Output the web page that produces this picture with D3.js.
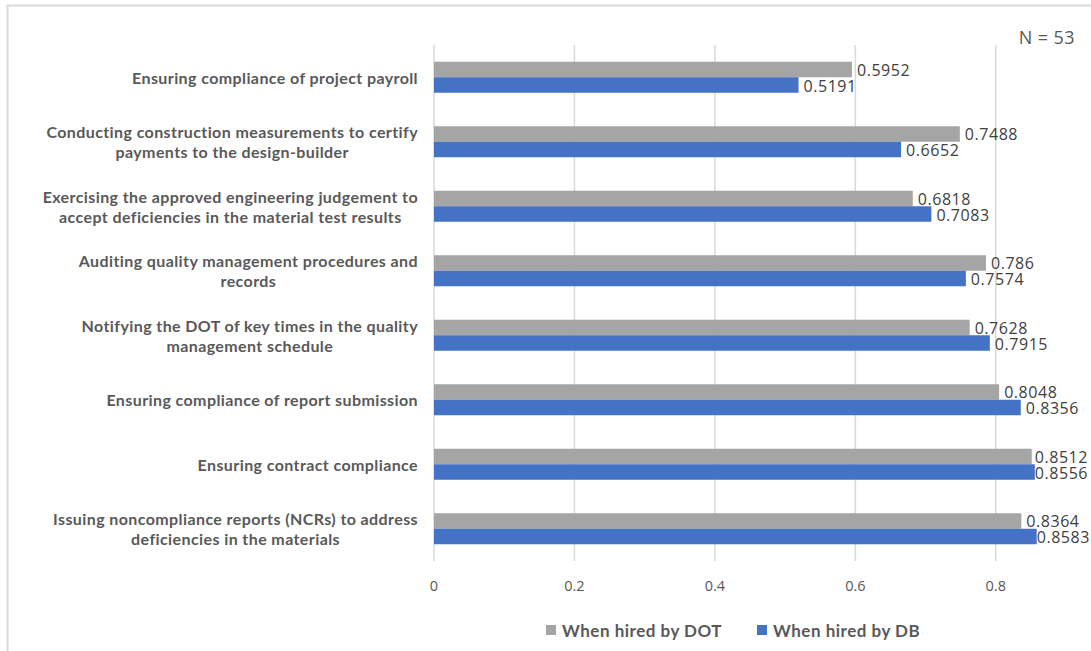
<!DOCTYPE html>
<html>
<head>
<meta charset="utf-8">
<script src="https://cdn.jsdelivr.net/npm/d3@7"></script>
<style>
  html, body { margin: 0; padding: 0; background: #ffffff; }
  svg { display: block; }
</style>
</head>
<body>
<div id="chart"></div>
<script>
// Tasks (top to bottom); "\n" marks where a label wraps
const categories = [
  "Ensuring compliance of project payroll",
  "Conducting construction measurements to certify\npayments to the design-builder",
  "Exercising the approved engineering judgement to\naccept deficiencies in the material test results",
  "Auditing quality management procedures and\nrecords",
  "Notifying the DOT of key times in the quality\nmanagement schedule",
  "Ensuring compliance of report submission",
  "Ensuring contract compliance",
  "Issuing noncompliance reports (NCRs) to address\ndeficiencies in the materials"
];
const seriesNames = ["When hired by DOT", "When hired by DB"];
const hiredByDOT = [0.5952, 0.7488, 0.6818, 0.786, 0.7628, 0.8048, 0.8512, 0.8364];
const hiredByDB  = [0.5191, 0.6652, 0.7083, 0.7574, 0.7915, 0.8356, 0.8556, 0.8583];
const xTicks = [0, 0.2, 0.4, 0.6, 0.8];
const sampleNote = "N = 53";

const W = 1091, H = 651;
const plot = { left: 434, right: 1066, top: 45, bottom: 561 };
const labelLimit = 1088; // value labels are kept inside the chart area
const colors = { dot: "#A5A5A5", db: "#4472C4" };

const svg = d3.select("#chart").append("svg")
  .attr("width", W).attr("height", H);

// chart area frame
svg.append("rect")
  .attr("x", 7.5).attr("y", 5.5)
  .attr("width", W + 20).attr("height", H + 20)
  .attr("fill", "#ffffff").attr("stroke", "#d9d9d9").attr("stroke-width", 2);

const x = d3.scaleLinear().domain([0, 0.9]).range([plot.left, plot.right]);
const y = d3.scaleBand().domain(d3.range(categories.length))
  .range([plot.top, plot.bottom]).paddingInner(0).paddingOuter(0);
const inner = d3.scaleBand().domain([0, 1])
  .range([0, y.bandwidth()]).paddingOuter(1.08).paddingInner(0);

// vertical gridlines
svg.append("g").selectAll("line").data(xTicks).join("line")
  .attr("x1", d => x(d)).attr("x2", d => x(d))
  .attr("y1", plot.top).attr("y2", plot.bottom)
  .attr("stroke", "#d9d9d9").attr("stroke-width", 1.5);

// x tick labels
svg.append("g").selectAll("text").data(xTicks).join("text")
  .attr("x", d => x(d)).attr("y", 585)
  .attr("text-anchor", "middle").attr("dominant-baseline", "central")
  .attr("font-family", "'Open Sans', sans-serif").attr("font-size", 14.5)
  .attr("fill", "#595959")
  .text(d => d3.format("")(d));

const rows = categories.map((c, i) => ({ i, c, vals: [hiredByDOT[i], hiredByDB[i]] }));

const groups = svg.append("g").selectAll("g").data(rows).join("g")
  .attr("transform", d => `translate(0,${y(d.i)})`);

// bars
groups.selectAll("rect").data(d => d.vals.map((v, k) => ({ v, k }))).join("rect")
  .attr("x", x(0))
  .attr("y", d => inner(d.k))
  .attr("width", d => x(d.v) - x(0))
  .attr("height", inner.bandwidth())
  .attr("fill", d => d.k === 0 ? colors.dot : colors.db);

// value labels, pulled left when they would run past the chart edge
groups.selectAll("text.val").data(d => d.vals.map((v, k) => ({ v, k }))).join("text")
  .attr("class", "val")
  .attr("y", d => inner(d.k) + inner.bandwidth() / 2 + 0.5)
  .attr("dominant-baseline", "central")
  .attr("font-family", "'Open Sans', sans-serif").attr("font-size", 16)
  .attr("letter-spacing", 0.55)
  .attr("fill", "#404040")
  .text(d => String(d.v))
  .attr("x", function(d) {
    const w = this.getComputedTextLength();
    return Math.max(x(d.v), Math.min(x(d.v) + 5, labelLimit - w));
  });

// category labels: block right-aligned, lines centred within the block
const labelRight = 418;
const lineGap = 20;
rows.forEach(r => {
  const lines = r.c.split("\n");
  const g = svg.append("g");
  const cy = y(r.i) + y.bandwidth() / 2;
  const texts = lines.map((ln, j) => g.append("text")
    .attr("y", cy + (j - (lines.length - 1) / 2) * lineGap)
    .attr("dominant-baseline", "central")
    .attr("font-family", "Lato, sans-serif").attr("font-weight", 700)
    .attr("font-size", 16)
    .attr("letter-spacing", 0.4)
    .attr("fill", "#595959")
    .text(ln));
  const widths = texts.map(t => t.node().getComputedTextLength());
  const blockW = d3.max(widths);
  texts.forEach(t => t.attr("x", labelRight - blockW / 2).attr("text-anchor", "middle"));
});

// sample size note
svg.append("text")
  .attr("x", 1075).attr("y", 37)
  .attr("text-anchor", "end").attr("dominant-baseline", "central")
  .attr("font-family", "'Open Sans', sans-serif").attr("font-size", 18)
  .attr("letter-spacing", 0.4)
  .attr("fill", "#595959")
  .text(sampleNote);

// legend
const legend = svg.append("g");
const legendX = [546, 757];
seriesNames.forEach((name, k) => {
  legend.append("rect")
    .attr("x", legendX[k]).attr("y", 625)
    .attr("width", 10).attr("height", 10)
    .attr("fill", k === 0 ? colors.dot : colors.db);
  legend.append("text")
    .attr("x", legendX[k] + 16).attr("y", 630)
    .attr("dominant-baseline", "central")
    .attr("font-family", "Lato, sans-serif").attr("font-weight", 700)
    .attr("font-size", 17)
    .attr("letter-spacing", 0.5)
    .attr("fill", "#595959")
    .text(name);
});
</script>
</body>
</html>
